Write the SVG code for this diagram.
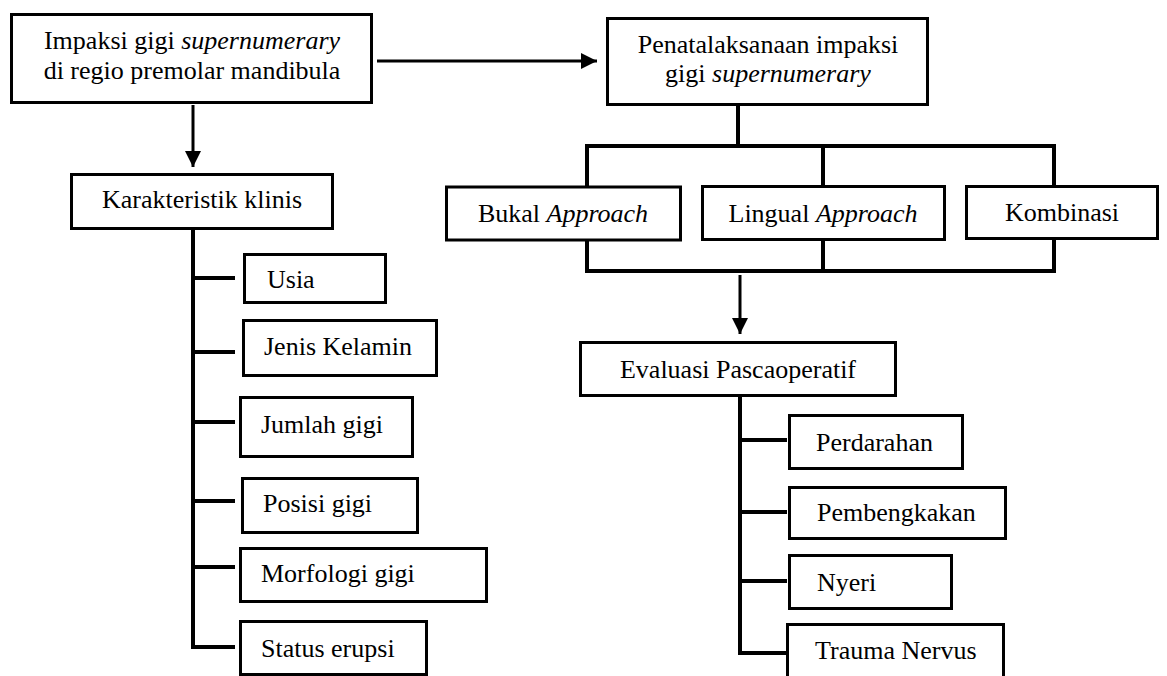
<svg xmlns="http://www.w3.org/2000/svg" width="1167" height="676" viewBox="0 0 1167 676" font-family="Liberation Serif, Times New Roman, DejaVu Serif, serif">
<style>
text{font-family:'Liberation Serif','Times New Roman','DejaVu Serif',serif;font-size:26px;fill:#000}
.box{fill:#fff;stroke:#000;stroke-width:3}
.c{text-anchor:middle}
.i{font-style:italic}
.ln{fill:none;stroke:#000;stroke-width:4;stroke-linecap:square;stroke-linejoin:miter}
.ar{fill:none;stroke:#000;stroke-width:3}
</style>
<defs>
<marker id="ah" viewBox="0 0 16 16" refX="16" refY="8" markerWidth="16" markerHeight="16" markerUnits="userSpaceOnUse" orient="auto">
<path d="M0,0 L16,8 L0,16 Z" fill="#000"/>
</marker>
</defs>
<rect width="1167" height="676" fill="#fff"/>
<g id="connectors">
<line class="ar" x1="377" y1="61" x2="597" y2="61" marker-end="url(#ah)"/>
<line class="ar" x1="193" y1="105" x2="193" y2="167" marker-end="url(#ah)"/>
<line class="ar" x1="740" y1="275" x2="740" y2="334" marker-end="url(#ah)"/>
<path class="ln" d="M738,106 V146 M587,185 V146 H1054 V185 M823,146 V185"/>
<path class="ln" d="M587,241 V271 H1054 V241 M823,241 V271"/>
<path class="ln" d="M193,230 V647 H233 M193,278 H233 M193,352 H233 M193,422 H233 M193,501 H233 M193,567 H233"/>
<path class="ln" d="M740,398 V653 H785 M740,440 H785 M740,512 H785 M740,581 H785"/>
</g>
<g id="n-impaksi">
<rect class="box" x="11.5" y="14.5" width="360" height="88"/>
<text class="c" x="192" y="49">Impaksi gigi <tspan class="i">supernumerary</tspan></text>
<text class="c" x="192" y="79">di regio premolar mandibula</text>
</g>
<g id="n-penatalaksanaan">
<rect class="box" x="607.5" y="18.5" width="320" height="86"/>
<text class="c" x="768" y="53">Penatalaksanaan impaksi</text>
<text class="c" x="768" y="82">gigi <tspan class="i">supernumerary</tspan></text>
</g>
<g id="n-karakteristik">
<rect class="box" x="71.5" y="174.5" width="261" height="54"/>
<text class="c" x="202" y="208">Karakteristik klinis</text>
</g>
<g id="n-bukal">
<rect class="box" x="446.5" y="187" width="234" height="53"/>
<text class="c" x="563" y="222">Bukal <tspan class="i">Approach</tspan></text>
</g>
<g id="n-lingual">
<rect class="box" x="702.5" y="186.5" width="242" height="53"/>
<text class="c" x="823" y="222">Lingual <tspan class="i">Approach</tspan></text>
</g>
<g id="n-kombinasi">
<rect class="box" x="966.5" y="186.5" width="191" height="52"/>
<text class="c" x="1062" y="221">Kombinasi</text>
</g>
<g id="n-usia">
<rect class="box" x="244.5" y="254.5" width="141" height="48"/>
<text x="267" y="288">Usia</text>
</g>
<g id="n-jenis">
<rect class="box" x="243.5" y="320.5" width="193" height="55"/>
<text x="264" y="355">Jenis Kelamin</text>
</g>
<g id="n-jumlah">
<rect class="box" x="240.5" y="397.5" width="172" height="59"/>
<text x="261" y="433">Jumlah gigi</text>
</g>
<g id="n-posisi">
<rect class="box" x="242.5" y="478.5" width="175" height="54"/>
<text x="263" y="512">Posisi gigi</text>
</g>
<g id="n-morfologi">
<rect class="box" x="240.5" y="548.5" width="246" height="53"/>
<text x="261" y="582">Morfologi gigi</text>
</g>
<g id="n-status">
<rect class="box" x="240.5" y="621.5" width="186" height="53"/>
<text x="261" y="657">Status erupsi</text>
</g>
<g id="n-evaluasi">
<rect class="box" x="580.5" y="342.5" width="315" height="53"/>
<text class="c" x="738" y="378">Evaluasi Pascaoperatif</text>
</g>
<g id="n-perdarahan">
<rect class="box" x="789.5" y="415.5" width="173" height="53"/>
<text x="816" y="451">Perdarahan</text>
</g>
<g id="n-pembengkakan">
<rect class="box" x="789.5" y="487.5" width="216" height="51"/>
<text x="817" y="521">Pembengkakan</text>
</g>
<g id="n-nyeri">
<rect class="box" x="789.5" y="555.5" width="162" height="53"/>
<text x="817" y="591">Nyeri</text>
</g>
<g id="n-trauma">
<rect class="box" x="787.5" y="624.5" width="216" height="70"/>
<text x="815" y="659">Trauma Nervus</text>
</g>
</svg>
